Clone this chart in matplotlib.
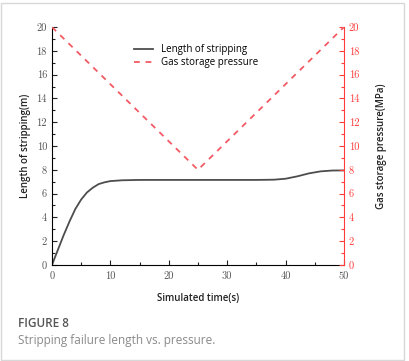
import matplotlib
matplotlib.use("Agg")
import matplotlib.pyplot as plt
from matplotlib.ticker import MultipleLocator, FormatStrFormatter
from matplotlib.lines import Line2D

plt.rcParams["font.family"] = ["cmr10", "DejaVu Serif"]
plt.rcParams["axes.formatter.use_mathtext"] = False
plt.rcParams["mathtext.fontset"] = "cm"

# data
time_s = [0, 1, 2, 3, 4, 5, 6, 7, 8, 9, 10, 12, 15, 20, 25, 30, 35, 38, 40, 42, 44, 46, 48, 50]
strip_len = [0, 1.25, 2.5, 3.65, 4.7, 5.5, 6.1, 6.5, 6.8, 6.95, 7.05, 7.12, 7.15, 7.15, 7.15,
             7.15, 7.15, 7.17, 7.25, 7.45, 7.7, 7.87, 7.94, 7.95]
press_t = [0, 25, 50]
pressure = [20, 8, 20]

red = "#ff3b3b"
dash_red = "#f25a64"
sans = "Open Sans"

fig = plt.figure(figsize=(4.09, 3.61), dpi=100)
fig.patch.set_facecolor("white")
fig.patches.append(plt.Rectangle((0.002, 0.003), 0.985, 0.99, transform=fig.transFigure,
                                 fill=False, edgecolor="#d8d8d8", lw=1.0))

ax = fig.add_axes([0.127, 0.266, 0.714, 0.659])
ax2 = ax.twinx()

ax.plot(time_s, strip_len, color="#4d4d4d", lw=1.3)
ax2.plot(press_t, pressure, color=dash_red, lw=1.3, dashes=(3.2, 3.2))

fmt = FormatStrFormatter("%d")
for a in (ax, ax2):
    a.set_xlim(0, 50)
    a.set_ylim(0, 20)
    a.spines["top"].set_visible(False)
    a.yaxis.set_major_locator(MultipleLocator(2))
    a.yaxis.set_minor_locator(MultipleLocator(1))
    a.yaxis.set_major_formatter(fmt)

ax.xaxis.set_major_locator(MultipleLocator(10))
ax.xaxis.set_minor_locator(MultipleLocator(5))
ax.xaxis.set_major_formatter(fmt)
ax.spines["right"].set_visible(False)
ax.tick_params(which="both", direction="in", labelsize=7.5, colors="#222222", labelcolor="#555555")
ax.tick_params(which="major", length=3.5, width=0.8)
ax.tick_params(which="minor", length=2, width=0.8)
ax.tick_params(axis="x", pad=5)

ax2.spines["right"].set_color(red)
ax2.spines["left"].set_visible(False)
ax2.spines["bottom"].set_visible(False)
ax2.tick_params(which="both", direction="in", labelsize=7.5, colors=red, labelcolor=red)
ax2.tick_params(which="major", length=3.5, width=0.8)
ax2.tick_params(which="minor", length=2, width=0.8)

ax.set_xlabel("Simulated time(s)", fontsize=7, family=sans, fontweight="semibold",
              color="#222222", labelpad=8)
ax.set_ylabel("Length of stripping(m)", fontsize=7, family=sans, fontweight="semibold",
              color="#222222", labelpad=4)
ax2.set_ylabel("Gas storage pressure(MPa)", fontsize=7, family=sans, fontweight="semibold",
               color="#222222", labelpad=12)

handles = [Line2D([], [], color="#4d4d4d", lw=1.3),
           Line2D([], [], color=dash_red, lw=1.3, dashes=(3.2, 3.2))]
ax.legend(handles, ["Length of stripping", "Gas storage pressure"], loc="upper left",
          bbox_to_anchor=(0.25, 0.965), frameon=False, handlelength=2.0,
          labelspacing=0.2, prop={"family": sans, "size": 7})

fig.text(0.044, 0.094, "FIGURE 8", family=sans, fontweight="semibold", fontsize=8.5,
         color="#555555")
fig.text(0.044, 0.048, "Stripping failure length vs. pressure.", family=sans, fontsize=8.5,
         color="#8a8a8a")

fig.savefig("out.png", dpi=100)
